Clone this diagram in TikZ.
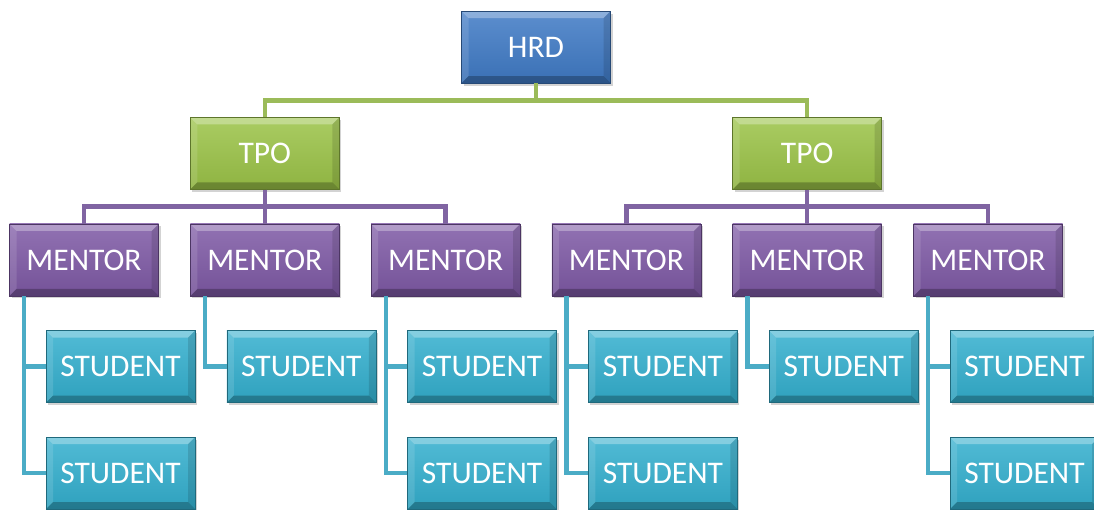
\documentclass[tikz,border=0pt]{standalone}
\usepackage{fontspec}
\setmainfont{Carlito}
\usetikzlibrary{positioning,calc,shadows}
\definecolor{HeadBlue}{HTML}{3F7AC5}
\definecolor{LeadGreen}{HTML}{9BC347}
\definecolor{GuidePurple}{HTML}{7E59A5}
\definecolor{LearnTeal}{HTML}{33AFCE}
\definecolor{LineGreen}{HTML}{9BBB59}
\definecolor{LinePurple}{HTML}{8064A2}
\definecolor{LineTeal}{HTML}{4BACC6}

\tikzset{
  bevel/.style={path picture={
    \fill[white,opacity=.30] (path picture bounding box.north west) -- (path picture bounding box.north east)
      -- ([shift={(-7pt,-7pt)}]path picture bounding box.north east) -- ([shift={(7pt,-7pt)}]path picture bounding box.north west) -- cycle;
    \fill[white,opacity=.12] (path picture bounding box.north west) -- ([shift={(7pt,-7pt)}]path picture bounding box.north west)
      -- ([shift={(7pt,7pt)}]path picture bounding box.south west) -- (path picture bounding box.south west) -- cycle;
    \fill[black,opacity=.12] (path picture bounding box.north east) -- ([shift={(-7pt,-7pt)}]path picture bounding box.north east)
      -- ([shift={(-7pt,7pt)}]path picture bounding box.south east) -- (path picture bounding box.south east) -- cycle;
    \fill[black,opacity=.25] (path picture bounding box.south west) -- (path picture bounding box.south east)
      -- ([shift={(-7pt,7pt)}]path picture bounding box.south east) -- ([shift={(7pt,7pt)}]path picture bounding box.south west) -- cycle;
  }}
}

\begin{document}
\begin{tikzpicture}[
  x=1pt,y=1pt,
  node distance=34pt and 31.2pt,
  box/.style={minimum width=149pt,minimum height=72pt,inner sep=0pt,text=white,
    font=\fontsize{31.5}{34}\selectfont,bevel,line width=.6pt,
    drop shadow={opacity=.35,shadow xshift=2pt,shadow yshift=-2.5pt}},
  head/.style={box,top color=HeadBlue!85!white,bottom color=HeadBlue!92!black,draw=HeadBlue!60!black},
  lead/.style={box,top color=LeadGreen!85!white,bottom color=LeadGreen!92!black,draw=LeadGreen!60!black},
  guide/.style={box,top color=GuidePurple!85!white,bottom color=GuidePurple!92!black,draw=GuidePurple!60!black},
  learner/.style={box,top color=LearnTeal!85!white,bottom color=LearnTeal!92!black,draw=LearnTeal!60!black},
  hline/.style={draw=LineGreen,line width=4.5pt},
  mline/.style={draw=LinePurple,line width=4.5pt},
  sline/.style={draw=LineTeal,line width=4.5pt}
]
\useasboundingbox (0,0) rectangle (1094,509);
\node[guide] (m1) at (84,249) {MENTOR};
\node[guide,right=of m1] (m2) {MENTOR};
\node[guide,right=of m2] (m3) {MENTOR};
\node[guide,right=of m3] (m4) {MENTOR};
\node[guide,right=of m4] (m5) {MENTOR};
\node[guide,right=of m5] (m6) {MENTOR};
\node[lead,above=of m2] (tpoA) {TPO};
\node[lead,above=of m5] (tpoB) {TPO};
\coordinate (mid) at ($(tpoA)!.5!(tpoB)$);
\node[head,above=70pt of mid] (hrd) {HRD};
\node[learner,below=of m1,xshift=36.5pt] (s1a) {STUDENT};
\node[learner,below=of s1a] (s1b) {STUDENT};
\node[learner,below=of m2,xshift=36.5pt] (s2a) {STUDENT};
\node[learner,below=of m3,xshift=36.5pt] (s3a) {STUDENT};
\node[learner,below=of s3a] (s3b) {STUDENT};
\node[learner,below=of m4,xshift=36.5pt] (s4a) {STUDENT};
\node[learner,below=of s4a] (s4b) {STUDENT};
\node[learner,below=of m5,xshift=36.5pt] (s5a) {STUDENT};
\node[learner,below=of m6,xshift=36.5pt] (s6a) {STUDENT};
\node[learner,below=of s6a] (s6b) {STUDENT};
% HRD to TPO
\draw[hline] (hrd.south) -- ++(0,-17) -| (tpoA.north);
\draw[hline] (hrd.south) -- ++(0,-17) -| (tpoB.north);
% TPO to mentors
\draw[mline] (tpoA.south) -- ++(0,-17) -| (m1.north);
\draw[mline] (tpoA.south) -- (m2.north);
\draw[mline] (tpoA.south) -- ++(0,-17) -| (m3.north);
\draw[mline] (tpoB.south) -- ++(0,-17) -| (m4.north);
\draw[mline] (tpoB.south) -- (m5.north);
\draw[mline] (tpoB.south) -- ++(0,-17) -| (m6.north);
% mentors to students
\draw[sline] ([xshift=15pt]m1.south west) |- (s1a.west);
\draw[sline] ([xshift=15pt]m1.south west) |- (s1b.west);
\draw[sline] ([xshift=15pt]m2.south west) |- (s2a.west);
\draw[sline] ([xshift=15pt]m3.south west) |- (s3a.west);
\draw[sline] ([xshift=15pt]m3.south west) |- (s3b.west);
\draw[sline] ([xshift=15pt]m4.south west) |- (s4a.west);
\draw[sline] ([xshift=15pt]m4.south west) |- (s4b.west);
\draw[sline] ([xshift=15pt]m5.south west) |- (s5a.west);
\draw[sline] ([xshift=15pt]m6.south west) |- (s6a.west);
\draw[sline] ([xshift=15pt]m6.south west) |- (s6b.west);
\end{tikzpicture}
\end{document}
